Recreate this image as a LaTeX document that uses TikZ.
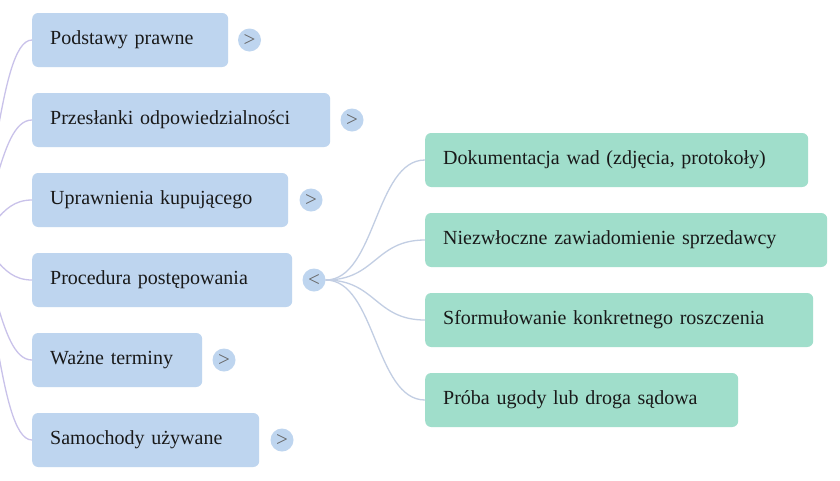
\documentclass[tikz,border=0pt]{standalone}
\usepackage{fontspec}
\setmainfont{Liberation Serif}
\begin{document}
\begin{tikzpicture}[x=1pt,y=-1pt,
  box/.style={rounded corners=6pt, draw=none, minimum height=54pt, inner xsep=18pt, inner ysep=0pt,
    align=left, anchor=west, text=black!90, font=\fontsize{20}{24}\selectfont},
  lbox/.style={box, fill=lblue},
  rbox/.style={box, fill=rgreen},
  tog/.style={circle, fill=lblue, minimum size=23pt, inner sep=0pt, text=black!60,
    font=\fontsize{21}{21}\selectfont},
  lcon/.style={draw=lav, line width=1.3pt},
  rcon/.style={draw=bgray, line width=1.3pt}]
\definecolor{lblue}{HTML}{BED5EF}
\definecolor{rgreen}{HTML}{A0DECB}
\definecolor{lav}{HTML}{C9C2EA}
\definecolor{bgray}{HTML}{C2CEE3}
\useasboundingbox (0,0) rectangle (840,480);
\fill[white] (0,0) rectangle (840,480);

\coordinate (root) at (-40,240);

\node[lbox, text width=160pt] (b1) at (32,40) {Podstawy prawne};
\node[lbox, text width=262pt] (b2) at (32,120) {Przesłanki odpowiedzialności};
\node[lbox, text width=220pt] (b3) at (32,200) {Uprawnienia kupującego};
\node[lbox, text width=224pt] (b4) at (32,280) {Procedura postępowania};
\node[lbox, text width=134pt] (b5) at (32,360) {Ważne terminy};
\node[lbox, text width=191pt] (b6) at (32,440) {Samochody używane};

\node[tog] (t1) at (249.5,40) {>};
\node[tog] (t2) at (352,120) {>};
\node[tog] (t3) at (311,200) {>};
\node[tog] (t4) at (314,280) {<};
\node[tog] (t5) at (224,360) {>};
\node[tog] (t6) at (282,440) {>};

\node[rbox, text width=347pt] (r1) at (425,160) {Dokumentacja wad (zdjęcia, protokoły)};
\node[rbox, text width=366pt] (r2) at (425,240) {Niezwłoczne zawiadomienie sprzedawcy};
\node[rbox, text width=352pt] (r3) at (425,320) {Sformułowanie konkretnego roszczenia};
\node[rbox, text width=277pt] (r4) at (425,400) {Próba ugody lub droga sądowa};

\foreach \b in {b1,b2,b3,b4,b5,b6}
  \draw[lcon] (root) .. controls +(36,0) and +(-36,0) .. (\b.west);
\foreach \r in {r1,r2,r3,r4}
  \draw[rcon] (t4.east) .. controls +(50,0) and +(-50,0) .. (\r.west);
\end{tikzpicture}
\end{document}
